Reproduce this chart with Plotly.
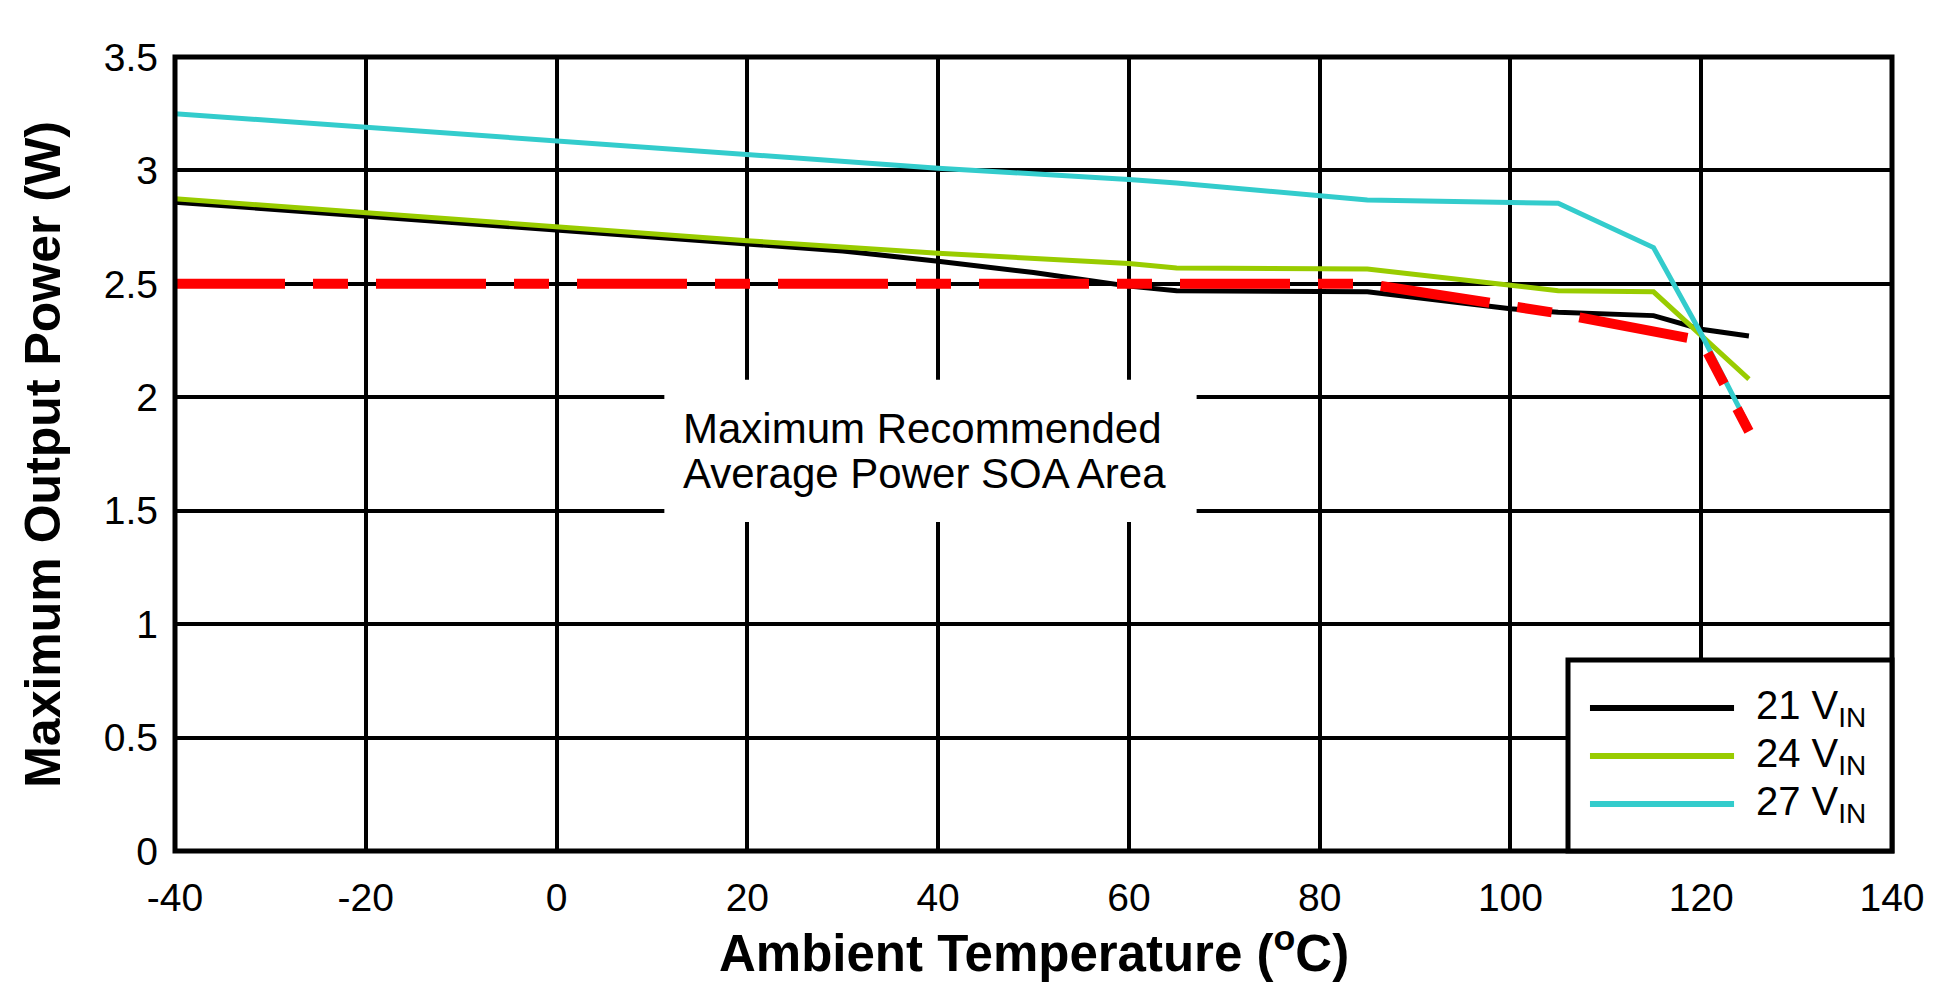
import plotly.graph_objects as go

# ---------------- data ----------------
temp_21v = [-40, 0, 20, 30, 40, 50, 60, 65, 85, 100, 105, 115, 120, 125]
power_21v = [2.86, 2.74, 2.68, 2.645, 2.60, 2.55, 2.49, 2.47, 2.465, 2.39, 2.375, 2.36, 2.30, 2.27]

temp_24v = [-40, 0, 20, 40, 60, 65, 85, 105, 115, 125]
power_24v = [2.875, 2.75, 2.69, 2.635, 2.59, 2.57, 2.565, 2.47, 2.465, 2.08]

temp_27v = [-40, -20, 0, 20, 40, 60, 65, 85, 105, 115, 120, 125]
power_27v = [3.25, 3.19, 3.13, 3.065, 3.01, 2.96, 2.945, 2.87, 2.855, 2.66, 2.28, 1.87]

temp_soa = [-40, 85, 105, 120, 125]
power_soa = [2.5, 2.5, 2.37, 2.25, 1.85]

series_names = ["21 V<sub>IN</sub>", "24 V<sub>IN</sub>", "27 V<sub>IN</sub>"]
series_colors = ["#000000", "#99CC00", "#33CCCC"]
series_x = [temp_21v, temp_24v, temp_27v]
series_y = [power_21v, power_24v, power_27v]

x_ticks = [-40, -20, 0, 20, 40, 60, 80, 100, 120, 140]
x_tick_labels = ["-40", "-20", "0", "20", "40", "60", "80", "100", "120", "140"]
y_ticks = [0, 0.5, 1, 1.5, 2, 2.5, 3, 3.5]
y_tick_labels = ["0", "0.5", "1", "1.5", "2", "2.5", "3", "3.5"]

x_title = "Ambient Temperature (<sup>o</sup>C)"
y_title = "Maximum Output Power (W)"
soa_label_1 = "Maximum Recommended"
soa_label_2 = "Average Power SOA Area"

FONT = "Liberation Sans, Arial, sans-serif"
PX_PER_W = 794 / 3.5

fig = go.Figure()
for name, color, xs, ys in zip(series_names, series_colors, series_x, series_y):
    fig.add_trace(go.Scatter(x=xs, y=ys, mode="lines", name=name,
                             line=dict(color=color, width=5), showlegend=False))
fig.add_trace(go.Scatter(x=temp_soa, y=power_soa, mode="lines", name="SOA",
                         line=dict(color="#FF0000", width=10, dash="110px,28px,35px,28px"),
                         showlegend=False))

shapes = [
    # white box behind SOA label
    dict(type="rect", xref="x", yref="y", x0=11.3, x1=67.1, y0=1.45, y1=2.077,
         fillcolor="white", line=dict(width=0), layer="above"),
    # plot border
    dict(type="rect", xref="paper", yref="paper", x0=0, x1=1, y0=0, y1=1,
         line=dict(color="black", width=5), layer="above"),
    # legend box
    dict(type="rect", xref="paper", yref="paper", x0=0.8113, x1=1, y0=0, y1=0.2406,
         fillcolor="white", line=dict(color="black", width=5), layer="above"),
]
annotations = [
    dict(text=soa_label_1, xref="x", yref="y", x=13.0, y=(851 - 428) / PX_PER_W,
         xanchor="left", yanchor="middle", showarrow=False,
         font=dict(family=FONT, size=42, color="black")),
    dict(text=soa_label_2, xref="x", yref="y", x=13.0, y=(851 - 473) / PX_PER_W,
         xanchor="left", yanchor="middle", showarrow=False,
         font=dict(family=FONT, size=42, color="black")),
    dict(text="<b>" + x_title + "</b>", xref="paper", yref="paper", x=0.5, y=-0.125,
         xanchor="center", yanchor="middle", showarrow=False,
         font=dict(family=FONT, size=51, color="black")),
    dict(text="<b>" + y_title + "</b>", xref="paper", yref="paper", x=-0.077, y=0.5,
         xanchor="center", yanchor="middle", showarrow=False, textangle=-90,
         font=dict(family=FONT, size=50, color="black")),
]
legend_y = [0.1801, 0.1196, 0.0592]
for name, color, ly in zip(series_names, series_colors, legend_y):
    shapes.append(dict(type="line", xref="paper", yref="paper", x0=0.8241, x1=0.9080,
                       y0=ly, y1=ly, line=dict(color=color, width=6), layer="above"))
    annotations.append(dict(text=name, xref="paper", yref="paper", x=0.9195, y=ly,
                            xanchor="left", yanchor="middle", showarrow=False,
                            font=dict(family=FONT, size=40, color="black")))

fig.update_layout(
    width=1940, height=979,
    margin=dict(l=167, r=56, t=49, b=136, pad=0),
    paper_bgcolor="white", plot_bgcolor="white",
    font=dict(family=FONT, color="black"),
    shapes=shapes, annotations=annotations,
    xaxis=dict(range=[-40, 140], tickvals=x_ticks, ticktext=x_tick_labels,
               showgrid=True, gridcolor="black", gridwidth=4, zeroline=False,
               showline=False, ticks="", ticklabelstandoff=20,
               tickfont=dict(family=FONT, size=39, color="black")),
    yaxis=dict(range=[0, 3.5], tickvals=y_ticks, ticktext=y_tick_labels,
               showgrid=True, gridcolor="black", gridwidth=4, zeroline=False,
               showline=False, ticks="", ticklabelstandoff=16,
               tickfont=dict(family=FONT, size=39, color="black")),
)

fig.write_html("out.html")
